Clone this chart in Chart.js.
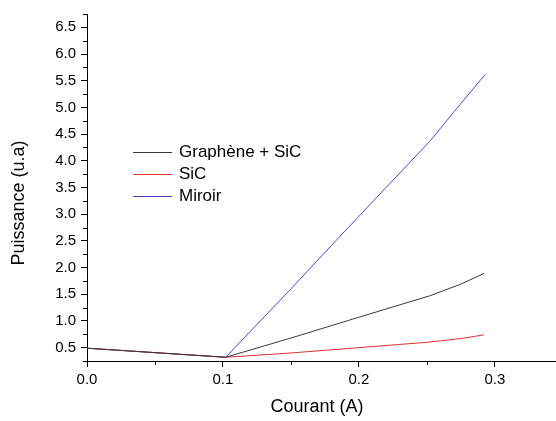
<!DOCTYPE html>
<html lang="en">
<head>
    <meta charset="UTF-8">
    <title>Puissance vs Courant</title>
    <style>
        html, body { margin: 0; padding: 0; background: #fff; }
        #chartContainer { width: 556px; height: 421px; }
    </style>
</head>
<body>

<div id="chartContainer">
    <canvas id="powerChart" width="556" height="421"></canvas>
</div>

<script src="https://cdn.jsdelivr.net/npm/chart.js"></script>
<script>
    // Series (courant in A, puissance in u.a)
    const grapheneX = [0, 0.102, 0.15, 0.2, 0.252, 0.275, 0.292];
    const grapheneY = [0.49, 0.32, 0.68, 1.07, 1.47, 1.69, 1.89];

    const sicX = [0, 0.102, 0.15, 0.2, 0.25, 0.275, 0.292];
    const sicY = [0.49, 0.32, 0.40, 0.50, 0.60, 0.67, 0.74];

    const miroirX = [0, 0.102, 0.12, 0.15, 0.18, 0.2, 0.22, 0.252, 0.27, 0.293];
    const miroirY = [0.49, 0.32, 0.80, 1.60, 2.42, 2.96, 3.50, 4.36, 4.92, 5.62];

    const seriesNames = ['Graphène + SiC', 'SiC', 'Miroir'];
    const seriesColors = ['#3a3a3a', '#e03030', '#4848d0'];

    const xMajorTicks = [0, 0.1, 0.2, 0.3];
    const xMinorTicks = [0.05, 0.15, 0.25];
    const yMajorTicks = [0.5, 1.0, 1.5, 2.0, 2.5, 3.0, 3.5, 4.0, 4.5, 5.0, 5.5, 6.0, 6.5];
    const yMinorTicks = [0.25, 0.75, 1.25, 1.75, 2.25, 2.75, 3.25, 3.75, 4.25, 4.75, 5.25, 5.75, 6.25, 6.75];

    const toPoints = (xs, ys) => xs.map((x, i) => ({ x: x, y: ys[i] }));

    const FONT = '"Liberation Sans", Arial, sans-serif';

    // minor ticks, axis titles and the legend box inside the plot
    const extras = {
        id: 'extras',
        afterDraw(chart) {
            const ctx = chart.ctx;
            const xs = chart.scales.x, ys = chart.scales.y;
            ctx.save();
            ctx.strokeStyle = '#000';
            ctx.lineWidth = 1;
            ctx.beginPath();
            xMinorTicks.forEach(v => {
                const px = Math.round(xs.getPixelForValue(v)) + 0.5;
                ctx.moveTo(px, ys.bottom);
                ctx.lineTo(px, ys.bottom + 4);
            });
            yMinorTicks.forEach(v => {
                const py = Math.round(ys.getPixelForValue(v)) + 0.5;
                ctx.moveTo(xs.left, py);
                ctx.lineTo(xs.left - 4, py);
            });
            ctx.stroke();

            ctx.fillStyle = '#000';
            ctx.font = '18px ' + FONT;
            ctx.textAlign = 'center';
            ctx.textBaseline = 'middle';
            ctx.fillText('Courant (A)', 317, 407);
            ctx.translate(19, 203);
            ctx.rotate(-Math.PI / 2);
            ctx.fillText('Puissance (u.a)', 0, 0);
            ctx.restore();

            ctx.save();
            ctx.font = '17px ' + FONT;
            ctx.textAlign = 'left';
            ctx.textBaseline = 'middle';
            seriesNames.forEach((name, i) => {
                const y = 152 + i * 22;
                ctx.strokeStyle = seriesColors[i];
                ctx.lineWidth = 1;
                ctx.beginPath();
                ctx.moveTo(133, y + 0.5);
                ctx.lineTo(172, y + 0.5);
                ctx.stroke();
                ctx.fillStyle = '#000';
                ctx.fillText(name, 179, y);
            });
            ctx.restore();
        }
    };

    const ctx = document.getElementById('powerChart').getContext('2d');
    new Chart(ctx, {
        type: 'line',
        data: {
            datasets: [
                { label: seriesNames[0], data: toPoints(grapheneX, grapheneY), borderColor: seriesColors[0] },
                { label: seriesNames[1], data: toPoints(sicX, sicY), borderColor: seriesColors[1] },
                { label: seriesNames[2], data: toPoints(miroirX, miroirY), borderColor: seriesColors[2] }
            ]
        },
        options: {
            responsive: false,
            animation: false,
            layout: { padding: { top: 5, right: 0, left: 0, bottom: 0 } },
            elements: {
                line: { borderWidth: 1, tension: 0, fill: false },
                point: { radius: 0 }
            },
            plugins: {
                legend: { display: false },
                tooltip: { enabled: false }
            },
            scales: {
                x: {
                    type: 'linear',
                    min: 0,
                    max: 0.345,
                    afterBuildTicks: s => { s.ticks = xMajorTicks.map(v => ({ value: v })); },
                    afterFit: s => { s.height = 60; },
                    grid: { drawOnChartArea: false, tickLength: 6, color: '#000' },
                    border: { color: '#000', width: 1 },
                    ticks: {
                        color: '#000',
                        padding: 4,
                        maxRotation: 0,
                        font: { size: 15, family: FONT },
                        callback: v => v.toFixed(1)
                    }
                },
                y: {
                    type: 'linear',
                    min: 0.25,
                    max: 6.75,
                    afterBuildTicks: s => { s.ticks = yMajorTicks.map(v => ({ value: v })); },
                    afterFit: s => { s.width = 87; },
                    grid: { drawOnChartArea: false, tickLength: 6, color: '#000' },
                    border: { color: '#000', width: 1 },
                    ticks: {
                        color: '#000',
                        padding: 5,
                        font: { size: 15, family: FONT },
                        callback: v => v.toFixed(1)
                    }
                }
            }
        },
        plugins: [extras]
    });
</script>

</body>
</html>
